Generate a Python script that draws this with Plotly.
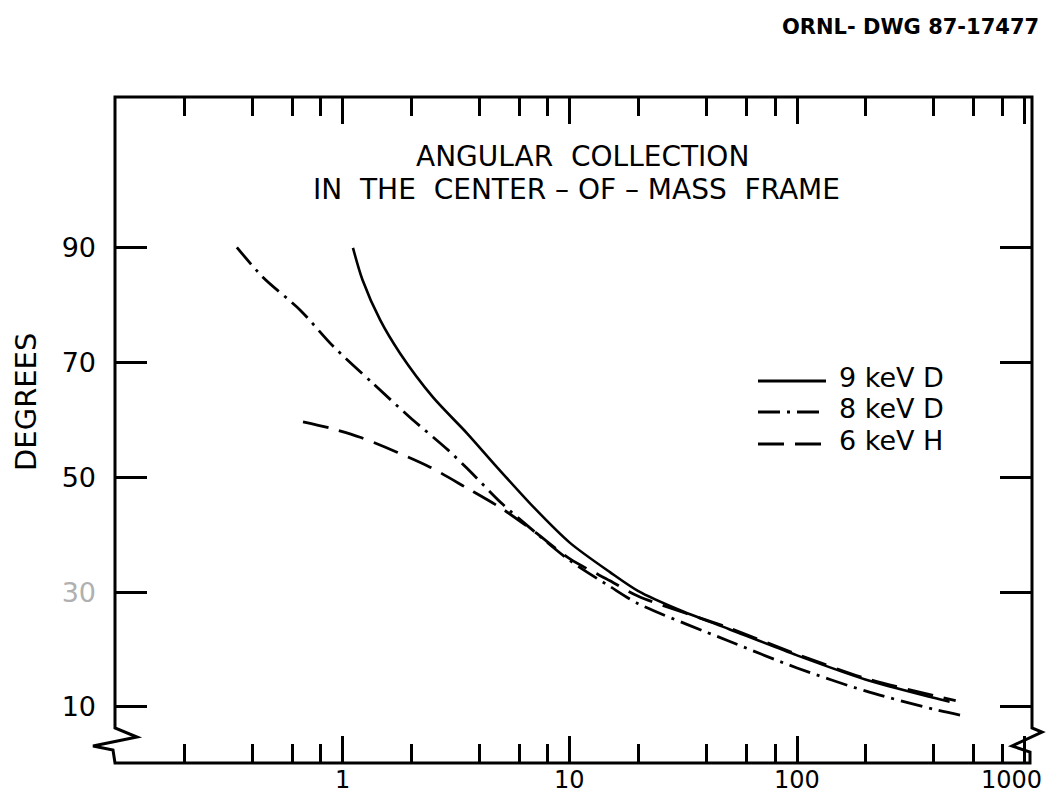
import math
import plotly.graph_objects as go

# ---------------- data ----------------
x_9keV_D = [1.107, 1.22, 1.46, 1.78, 2.49, 3.52, 4.82, 7, 10, 15, 20, 30, 50, 100, 200, 400, 470]
y_9keV_D = [90, 84.4, 77.4, 71.7, 64.0, 57.7, 51.6, 44.6, 38.6, 33.5, 30.2, 27.0, 23.6, 19.0, 14.8, 11.6, 10.9]

x_8keV_D = [0.341, 0.444, 0.647, 0.904, 1.355, 1.97, 2.90, 3.52, 5, 7, 10, 15, 20, 50, 100, 200, 400, 550]
y_8keV_D = [90.1, 84.9, 79.2, 72.9, 66.4, 60.5, 54.8, 51.6, 45.5, 40.5, 35.5, 31.0, 28.0, 21.5, 16.8, 12.8, 9.6, 8.4]

x_6keV_H = [0.667, 0.877, 1.19, 1.73, 2.42, 3.5, 5, 7, 10, 15, 20, 50, 100, 200, 400, 500]
y_6keV_H = [59.7, 58.6, 57.0, 54.4, 51.8, 48.2, 44.6, 40.5, 35.8, 32.0, 29.3, 23.8, 19.2, 15.0, 12.0, 11.1]

series_names = ["9 keV D", "8 keV D", "6 keV H"]
x_major_ticks = [1, 10, 100, 1000]
x_major_labels = ["1", "10", "100", "1000"]
x_minor_ticks = [0.2, 0.4, 0.6, 0.8, 2, 4, 6, 8, 20, 40, 60, 80, 200, 400, 600, 800]
y_ticks = [10, 30, 50, 70, 90]
y_labels = ["10", "<span style='color:#b0b0b0'>30</span>", "50", "70", "90"]

# ---------------- layout geometry ----------------
W, H = 1046, 799
L, R, T, B = 115, 1032, 97, 763
FONT = "DejaVu Sans"

def px(xp):
    return (xp - L) / (R - L)

def py(yp):
    return (B - yp) / (B - T)

DASHDOT = "22px,7px,3px,7px"
DASHED = "26px,11px"
styles = [dict(color="black", width=2.6),
          dict(color="black", width=2.8, dash=DASHDOT),
          dict(color="black", width=2.8, dash=DASHED)]

fig = go.Figure()
for xs, ys, st, nm in zip([x_9keV_D, x_8keV_D, x_6keV_H],
                          [y_9keV_D, y_8keV_D, y_6keV_H], styles, series_names):
    fig.add_trace(go.Scatter(x=xs, y=ys, mode="lines", name=nm,
                             line=dict(shape="spline", smoothing=0.8, **st),
                             showlegend=False))

# frame with axis-break zigzags
pts = [(L, T), (L, 728), (137, 737), (93, 746), (113, 750), (L, B),
       (1030, B), (1030, 752), (1012, 746), (1042, 732), (R, 728), (R, T)]
path = "M " + " L ".join(f"{px(a):.5f},{py(b):.5f}" for a, b in pts) + " Z"
shapes = [dict(type="path", path=path, xref="paper", yref="paper",
               line=dict(color="black", width=3))]

# manual legend
leg_rows = [(381, styles[0]), (412, styles[1]), (444, styles[2])]
for (yy, st) in leg_rows:
    ln = dict(color="black", width=3)
    if "dash" in st:
        ln["dash"] = st["dash"]
    shapes.append(dict(type="line", xref="paper", yref="paper",
                       x0=px(758), x1=px(826), y0=py(yy), y1=py(yy), line=ln))

annotations = []
for (yy, _), nm in zip(leg_rows, series_names):
    annotations.append(dict(text=nm, xref="paper", yref="paper", x=px(837), y=py(yy - 4),
                            xanchor="left", yanchor="middle", showarrow=False,
                            font=dict(family=FONT, size=27, color="black")))

# x tick labels (placed through the x axis scale)
for v, lab in zip(x_major_ticks, x_major_labels):
    last = (v == x_major_ticks[-1])
    annotations.append(dict(text=lab, xref="x", yref="paper", x=math.log10(v), y=0,
                            xanchor="right" if last else "center", yanchor="top",
                            xshift=20 if last else 0, yshift=-1,
                            showarrow=False,
                            font=dict(family=FONT, size=24, color="black")))

annotations += [
    dict(text="ANGULAR  COLLECTION", xref="paper", yref="paper", x=px(582), y=py(157),
         xanchor="center", yanchor="middle", showarrow=False,
         font=dict(family=FONT, size=28, color="black")),
    dict(text="IN  THE  CENTER – OF – MASS  FRAME", xref="paper", yref="paper", x=px(576), y=py(189),
         xanchor="center", yanchor="middle", showarrow=False,
         font=dict(family=FONT, size=28, color="black")),
    dict(text="<b>ORNL- DWG 87-17477</b>", xref="paper", yref="paper", x=px(1041), y=py(27),
         xanchor="right", yanchor="middle", showarrow=False,
         font=dict(family=FONT, size=21, color="black")),
    dict(text="DEGREES", xref="paper", yref="paper", x=px(26), y=py(402),
         xanchor="center", yanchor="middle", showarrow=False, textangle=-90,
         font=dict(family=FONT, size=29, color="black")),
]

fig.update_layout(
    width=W, height=H,
    margin=dict(l=L, r=W - R, t=T, b=H - B, pad=0),
    paper_bgcolor="white", plot_bgcolor="white",
    shapes=shapes, annotations=annotations,
    font=dict(family=FONT, color="black"),
    xaxis=dict(type="log", range=[-1.004, 3.035], showgrid=False, zeroline=False,
               showline=False, mirror="ticks", automargin=False,
               tickvals=x_major_ticks, showticklabels=False,
               ticks="inside", ticklen=27, tickwidth=3, tickcolor="black",
               minor=dict(tickvals=x_minor_ticks, ticks="inside", ticklen=19,
                          tickwidth=3, tickcolor="black", showgrid=False)),
    yaxis=dict(range=[0.24, 116.3], showgrid=False, zeroline=False,
               showline=False, mirror="ticks", automargin=False,
               tickvals=y_ticks, ticktext=y_labels,
               ticks="inside", ticklen=32, tickwidth=2.5, tickcolor="black",
               tickfont=dict(family=FONT, size=27, color="black"),
               ticklabelstandoff=18),
)

fig.write_html("out.html", config={"displayModeBar": False},
               post_script="document.body.style.margin='0px';"
                           "document.documentElement.style.overflow='hidden';")
